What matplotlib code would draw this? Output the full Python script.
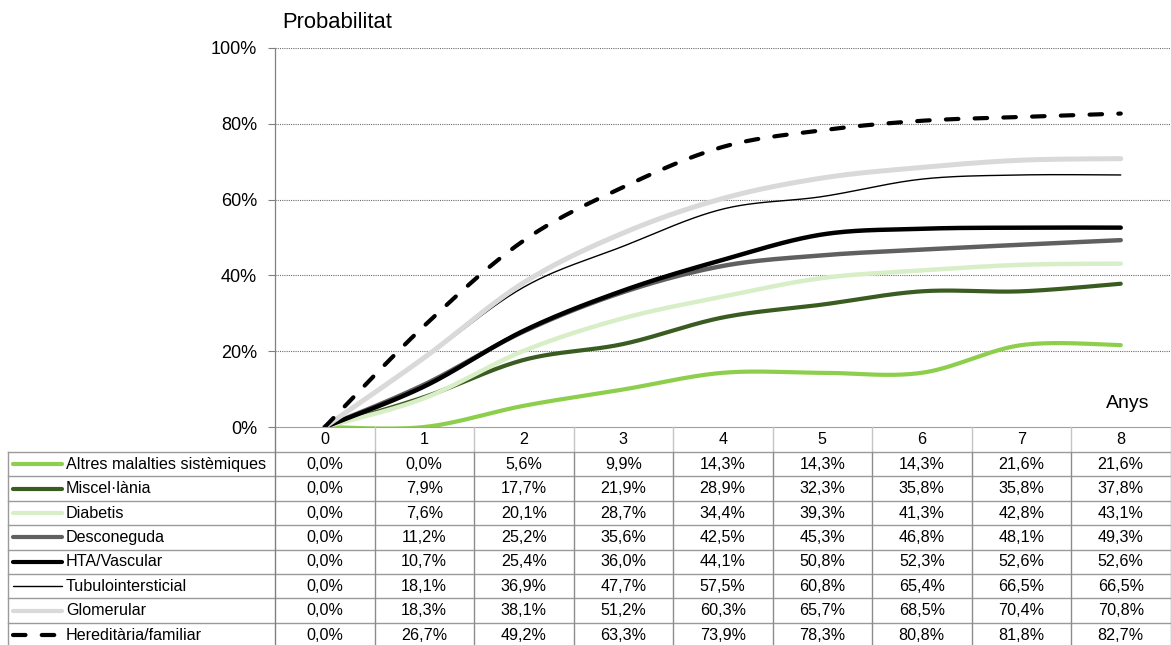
import numpy as np
import matplotlib
matplotlib.use("Agg")
import matplotlib.pyplot as plt
from matplotlib.lines import Line2D
from matplotlib.transforms import blended_transform_factory

plt.rcParams['font.family'] = ['Liberation Sans', 'DejaVu Sans']

years = [0, 1, 2, 3, 4, 5, 6, 7, 8]
series_names = ["Altres malalties sistèmiques", "Miscel·lània", "Diabetis",
                "Desconeguda", "HTA/Vascular", "Tubulointersticial",
                "Glomerular", "Hereditària/familiar"]
altres = [0.0, 0.0, 5.6, 9.9, 14.3, 14.3, 14.3, 21.6, 21.6]
miscel = [0.0, 7.9, 17.7, 21.9, 28.9, 32.3, 35.8, 35.8, 37.8]
diabetis = [0.0, 7.6, 20.1, 28.7, 34.4, 39.3, 41.3, 42.8, 43.1]
desconeguda = [0.0, 11.2, 25.2, 35.6, 42.5, 45.3, 46.8, 48.1, 49.3]
hta = [0.0, 10.7, 25.4, 36.0, 44.1, 50.8, 52.3, 52.6, 52.6]
tubulo = [0.0, 18.1, 36.9, 47.7, 57.5, 60.8, 65.4, 66.5, 66.5]
glomerular = [0.0, 18.3, 38.1, 51.2, 60.3, 65.7, 68.5, 70.4, 70.8]
hereditaria = [0.0, 26.7, 49.2, 63.3, 73.9, 78.3, 80.8, 81.8, 82.7]
all_values = [altres, miscel, diabetis, desconeguda, hta, tubulo, glomerular, hereditaria]

styles = [
    dict(color="#8DCF4C", lw=3.0),
    dict(color="#3A5C20", lw=3.0),
    dict(color="#D7EEC6", lw=3.2),
    dict(color="#606060", lw=3.2),
    dict(color="#000000", lw=3.2),
    dict(color="#000000", lw=1.0),
    dict(color="#D9D9D9", lw=3.6),
    dict(color="#000000", lw=3.0, dashes=(3.0, 3.9), dash_capstyle='round'),
]


def smooth(xs, ys, n=40):
    P = np.column_stack([np.asarray(xs, float), np.asarray(ys, float)])
    out = []
    m = len(P)
    for i in range(m - 1):
        p0 = P[i - 1] if i > 0 else P[i]
        p1 = P[i]
        p2 = P[i + 1]
        p3 = P[i + 2] if i + 2 < m else P[i + 1]
        c1 = p1 + (p2 - p0) / 6.0
        c2 = p2 - (p3 - p1) / 6.0
        t = np.linspace(0, 1, n)[:, None]
        seg = ((1 - t) ** 3) * p1 + 3 * ((1 - t) ** 2) * t * c1 + 3 * (1 - t) * t ** 2 * c2 + t ** 3 * p2
        out.append(seg if i == 0 else seg[1:])
    S = np.vstack(out)
    return S[:, 0], S[:, 1]


W, H = 1171, 645
fig = plt.figure(figsize=(W / 100, H / 100), dpi=100)
ax_left, ax_right = 275, 1170.5
ax_top, ax_bottom = 48, 427
ax = fig.add_axes([ax_left / W, (H - ax_bottom) / H, (ax_right - ax_left) / W, (ax_bottom - ax_top) / H])

for vals, st in zip(all_values, styles):
    xs, ys = smooth(years, vals)
    ax.plot(xs, ys, solid_capstyle='round', **st)

ax.set_xlim(-0.5, 8.5)
ax.set_ylim(0, 100)
ax.set_yticks([0, 20, 40, 60, 80, 100])
ax.set_yticklabels([f"{v}%" for v in [0, 20, 40, 60, 80, 100]])
ax.tick_params(axis='y', length=5, width=0.8, color="#808080", pad=8, labelsize=13)
ax.set_xticks([])
for v in [20, 40, 60, 80, 100]:
    ax.axhline(v, color="#6E6E6E", lw=0.8, ls=(0, (1, 1)), zorder=0)
for s in ['top', 'right']:
    ax.spines[s].set_visible(False)
ax.spines['left'].set_color("#808080")
ax.spines['bottom'].set_color("#A0A0A0")
ax.spines['left'].set_linewidth(0.9)

fig.text(282 / W, 1 - 22 / H, "Probabilitat", fontsize=15.8, ha='left', va='center')
fig.text(1149 / W, 1 - 404 / H, "Anys", fontsize=14, ha='right', va='center')

# Table
bt = blended_transform_factory(ax.transData, fig.transFigure)
ft = fig.transFigure


def fy(py):
    return 1 - py / H


header_bottom = 452
row_h = 24.4
n_rows = len(series_names)
row_tops = [header_bottom + i * row_h for i in range(n_rows)]
grid_col = "#9A9A9A"
tfs = 11.6

# horizontal lines
for yb in [header_bottom] + [header_bottom + (i + 1) * row_h for i in range(n_rows - 1)]:
    fig.add_artist(Line2D([8 / W, ax_right / W], [fy(yb), fy(yb)], transform=ft, color=grid_col, lw=1.0))
# left border
fig.add_artist(Line2D([8 / W, 8 / W], [fy(header_bottom), 0], transform=ft, color=grid_col, lw=1.0))
# axis line continuation
fig.add_artist(Line2D([ax_left / W, ax_left / W], [fy(ax_bottom), 0], transform=ft, color="#808080", lw=1.0))
# column boundaries
for b in np.arange(0.5, 9.0, 1.0):
    fig.add_artist(Line2D([b, b], [fy(ax_bottom), fy(header_bottom)], transform=bt, color="#C4C4C4", lw=1.0))
    fig.add_artist(Line2D([b, b], [fy(header_bottom), 0], transform=bt, color="#8C8C8C", lw=1.0))

for yr in years:
    fig.text(yr, fy(440), str(yr), transform=bt, ha='center', va='center', fontsize=tfs)

for i, (name, vals, st) in enumerate(zip(series_names, all_values, styles)):
    yc = fy(row_tops[i] + row_h / 2)
    kw = {k: v for k, v in st.items()}
    kw['lw'] = kw['lw'] if kw['lw'] < 2 else 3.0
    fig.add_artist(Line2D([13 / W, 62 / W], [yc, yc], transform=ft, solid_capstyle='round', **kw))
    fig.text(66 / W, yc, name, ha='left', va='center', fontsize=tfs)
    for yr, v in zip(years, vals):
        fig.text(yr, yc, f"{v:.1f}%".replace('.', ','), transform=bt, ha='center', va='center', fontsize=tfs)

fig.savefig("out.png", dpi=100)
